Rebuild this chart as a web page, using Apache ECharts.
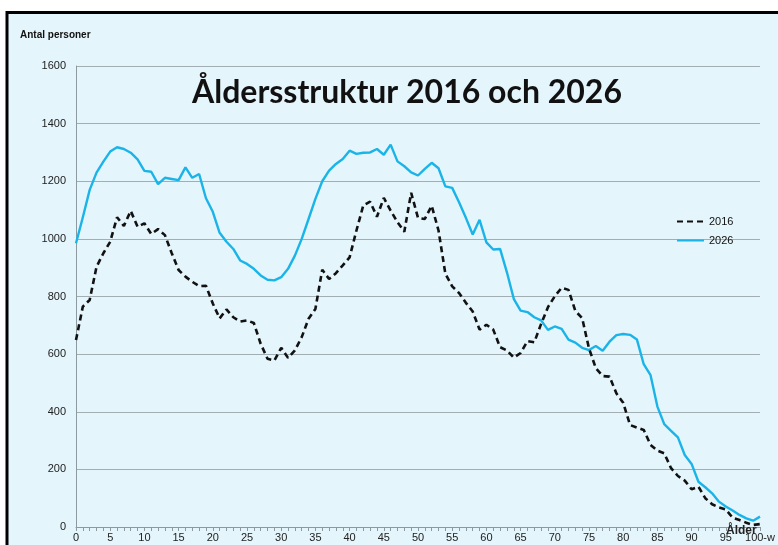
<!DOCTYPE html>
<html><head><meta charset="utf-8">
<script src="https://cdn.jsdelivr.net/npm/echarts@6/dist/echarts.min.js"></script>
<style>html,body{margin:0;padding:0;background:#fff}#c{width:778px;height:545px}</style>
</head><body><div id="c"></div>
<script>
const ages = [];
for (let i = 0; i <= 100; i++) ages.push(String(i));
const tickLabels = {0:'0',5:'5',10:'10',15:'15',20:'20',25:'25',30:'30',35:'35',40:'40',45:'45',50:'50',55:'55',60:'60',65:'65',70:'70',75:'75',80:'80',85:'85',90:'90',95:'95',100:'100-w'};
const y2016 = [649,765,788,903,950,990,1075,1045,1097,1042,1054,1017,1034,1013,950,892,869,851,836,837,
  776,724,755,728,713,717,708,636,584,578,622,587,613,659,723,757,893,861,881,908,
  936,1029,1116,1129,1077,1142,1098,1058,1025,1160,1073,1069,1115,1029,879,835,812,778,748,685,
  702,685,624,613,588,604,645,641,705,763,801,830,823,750,725,620,551,524,522,464,
  431,354,345,337,285,265,256,204,177,161,131,140,100,79,68,61,32,24,15,7,10];
const y2026 = [985,1075,1170,1230,1268,1303,1318,1312,1299,1276,1236,1233,1190,1212,1208,1204,1248,1212,1225,1141,
  1094,1021,990,965,925,913,896,873,858,856,867,896,942,1000,1069,1139,1200,1237,1260,1277,
  1306,1295,1299,1300,1312,1292,1327,1269,1252,1231,1220,1243,1264,1245,1182,1177,1127,1073,1015,1066,
  988,963,965,884,792,751,746,728,717,684,696,688,650,640,622,614,628,612,643,666,
  670,667,651,565,527,418,357,334,311,250,219,157,138,117,88,71,57,42,30,22,36];
const seriesNames = ['2016','2026'];

const chart = echarts.init(document.getElementById('c'));
chart.setOption({
  backgroundColor: '#ffffff',
  animation: false,
  graphic: [
    {type:'rect', z:-10, shape:{x:7, y:12.5, width:800, height:600}, style:{fill:'#e4f5fb', stroke:'#000', lineWidth:3}},
    {type:'text', left:20, top:30, style:{text:'Antal personer', font:'bold 10px Liberation Sans, Arial, sans-serif', fill:'#111'}},
    {type:'text', left:726, top:525, z:50, style:{text:'Ålder', font:'bold 12px Liberation Sans, Arial, sans-serif', fill:'#222'}}
  ],
  title: {
    text: 'Åldersstruktur 2016 och 2026',
    left: 187, top: 72,
    textStyle: {fontFamily: 'Lato, sans-serif', fontWeight: 'bold', fontSize: 32, color: '#111'}
  },
  legend: {
    orient: 'vertical', left: 671, top: 211, itemWidth: 27, itemHeight: 10, itemGap: 8,
    itemStyle: {opacity: 0},
    textStyle: {fontFamily:'Liberation Sans, Arial, sans-serif', fontSize: 11, color:'#111'},
    data: seriesNames
  },
  grid: {left: 76, right: 18, top: 66, bottom: 18, containLabel: false},
  xAxis: {
    type: 'category', data: ages, boundaryGap: false,
    axisLine: {lineStyle: {color: '#8c9aa0', width: 1}},
    axisTick: {show: true, interval: 0, length: 4, lineStyle: {color:'#8c9aa0'}},
    axisLabel: {interval: 0, margin: 5, fontSize: 11, fontFamily:'Liberation Sans, Arial, sans-serif', color:'#222',
      formatter: (v, i) => tickLabels[i] !== undefined ? tickLabels[i] : ''},
    splitLine: {show: false}
  },
  yAxis: {
    type: 'value', min: 0, max: 1600, interval: 200,
    axisLine: {show: true, lineStyle: {color: '#8c9aa0'}},
    axisTick: {show: false},
    axisLabel: {fontSize: 11, margin: 10, fontFamily:'Liberation Sans, Arial, sans-serif', color:'#222',
      formatter: v => String(v)},
    splitLine: {lineStyle: {color: '#a3aeb3', width: 1}}
  },
  series: [
    {name: seriesNames[0], type: 'line', data: y2016, symbol: 'none', z: 3,
      lineStyle: {color: '#111', width: 2.6, type: [6, 4]}, itemStyle: {color: '#111'}},
    {name: seriesNames[1], type: 'line', data: y2026, symbol: 'none', z: 2,
      lineStyle: {color: '#1ab4e8', width: 2.4}, itemStyle: {color: '#1ab4e8'}}
  ]
});
</script></body></html>
